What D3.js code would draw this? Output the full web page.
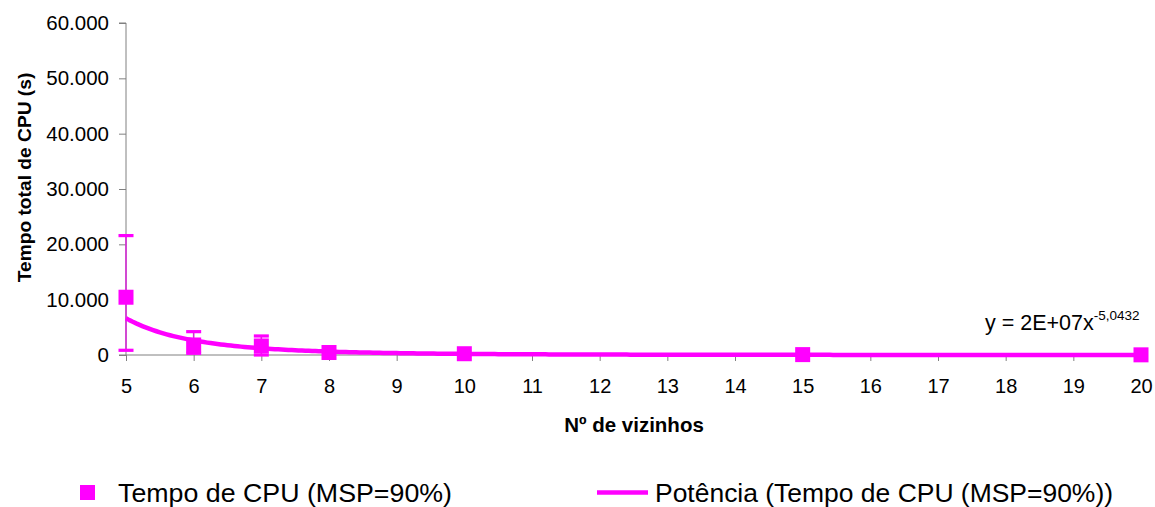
<!DOCTYPE html>
<html>
<head>
<meta charset="utf-8">
<script src="https://cdn.jsdelivr.net/npm/d3@7"></script>
<style>
  html, body { margin: 0; padding: 0; background: #fff; }
  svg { display: block; font-family: "Liberation Sans", Arial, sans-serif; }
</style>
</head>
<body>
<svg id="chart" width="1155" height="507"></svg>
<script>
// ---- data ----
const categories = [5, 6, 7, 8, 10, 15, 20];
const cpuTime    = [10440, 1810, 1630, 450, 230, 70, 30];
const errPlus    = [11140, 2410, 1810, 0, 0, 0, 0];
const errMinus   = [9590, 1500, 1630, 0, 0, 0, 0];
const xTicks = [5, 6, 7, 8, 9, 10, 11, 12, 13, 14, 15, 16, 17, 18, 19, 20];
const yTicks = [0, 10000, 20000, 30000, 40000, 50000, 60000];
const trendCoef = 2.22e7;
const trendExp = -5.0432;
const seriesName = "Tempo de CPU (MSP=90%)";
const trendName = "Potência (Tempo de CPU (MSP=90%))";
const xTitle = "Nº de vizinhos";
const yTitle = "Tempo total de CPU (s)";

(function () {
// ---- layout ----
const svg = d3.select("#chart");
const pLeft = 126, pRight = 1141, pTop = 23, pBottom = 355;
const magenta = "#FF00FF";
const axisColor = "#808080";

const x = d3.scaleLinear().domain([5, 20]).range([pLeft, pRight]);
const y = d3.scaleLinear().domain([0, 60000]).range([pBottom, pTop]);

const loc = d3.formatLocale({decimal: ",", thousands: ".", grouping: [3], currency: ["", ""]});
const fmt = loc.format(",d");

// y axis
const yAxis = svg.append("g").attr("transform", `translate(${pLeft},0)`)
  .call(d3.axisLeft(y).tickValues(yTicks).tickFormat(fmt).tickSize(7).tickPadding(10));
yAxis.select(".domain").attr("stroke", axisColor).attr("d", `M-7,${pTop}H0V${pBottom}H-7`);
yAxis.selectAll(".tick line").attr("stroke", axisColor);
yAxis.selectAll(".tick text").attr("font-size", 20.5).attr("fill", "#000")
  .attr("font-family", "Liberation Sans, Arial, sans-serif");

// x axis
const xAxis = svg.append("g").attr("transform", `translate(0,${pBottom})`)
  .call(d3.axisBottom(x).tickValues(xTicks).tickFormat(d3.format("d")).tickSize(6).tickPadding(18));
xAxis.select(".domain").attr("stroke", axisColor).attr("d", `M${pLeft},0H${pRight}`);
xAxis.selectAll(".tick line").attr("stroke", axisColor);
xAxis.selectAll(".tick text").attr("font-size", 20).attr("fill", "#000")
  .attr("font-family", "Liberation Sans, Arial, sans-serif");

// axis titles
svg.append("text").attr("x", 634).attr("y", 432).attr("text-anchor", "middle")
  .attr("font-size", 20.5).attr("font-weight", "bold").text(xTitle);
svg.append("text").attr("transform", "translate(31,177.5) rotate(-90)")
  .attr("text-anchor", "middle").attr("font-size", 19.2).attr("font-weight", "bold").text(yTitle);

// data rows
const rows = categories.map((c, i) => ({x: c, v: cpuTime[i], p: errPlus[i], m: errMinus[i]}));

// error bars
const eb = svg.append("g");
rows.filter(d => d.p > 0 || d.m > 0).forEach(d => {
  eb.append("line").attr("x1", x(d.x)).attr("x2", x(d.x))
    .attr("y1", y(d.v + d.p)).attr("y2", y(d.v - d.m))
    .attr("stroke", "#d62bd6").attr("stroke-width", 1.6);
  [d.v + d.p, d.v - d.m].forEach(val => {
    eb.append("rect").attr("x", x(d.x) - 7.5).attr("y", y(val) - 1.6)
      .attr("width", 15).attr("height", 3.2).attr("fill", magenta);
  });
});

// markers
svg.append("g").selectAll("rect").data(rows).join("rect")
  .attr("x", d => x(d.x) - 7.5).attr("y", d => y(d.v) - 7.5)
  .attr("width", 15).attr("height", 15).attr("fill", magenta);

// power trendline
const trendPts = d3.range(5, 20.001, 0.05).map(t => [t, trendCoef * Math.pow(t, trendExp)]);
svg.append("path").datum(trendPts)
  .attr("d", d3.line().x(d => x(d[0])).y(d => y(d[1])).curve(d3.curveLinear))
  .attr("fill", "none").attr("stroke", magenta).attr("stroke-width", 4.5)
  .attr("stroke-linejoin", "round");

// equation label
const eq = svg.append("text").attr("x", 985).attr("y", 330).attr("font-size", 21.5).attr("fill", "#000");
eq.append("tspan").text("y = 2E+07x");
eq.append("tspan").attr("font-size", 13.5).attr("dy", -10).text("-5,0432");

// legend
svg.append("rect").attr("x", 80).attr("y", 485).attr("width", 15).attr("height", 15).attr("fill", magenta);
svg.append("text").attr("x", 118).attr("y", 502).attr("font-size", 25)
  .attr("textLength", 334).attr("lengthAdjust", "spacingAndGlyphs").text(seriesName);
svg.append("line").attr("x1", 597).attr("x2", 648).attr("y1", 492.5).attr("y2", 492.5)
  .attr("stroke", magenta).attr("stroke-width", 4.5);
svg.append("text").attr("x", 655).attr("y", 502).attr("font-size", 25)
  .attr("textLength", 458).attr("lengthAdjust", "spacingAndGlyphs").text(trendName);
})();
</script>
</body>
</html>
